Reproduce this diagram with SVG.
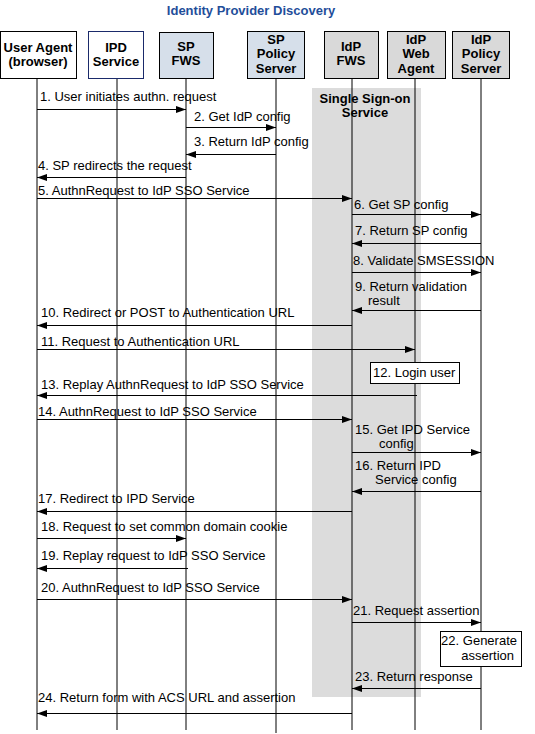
<svg xmlns="http://www.w3.org/2000/svg" width="535" height="734" viewBox="0 0 535 734">
<defs>
<style>
.t{font-family:"Liberation Sans",Arial,sans-serif;font-size:13px;fill:#000}
.h{font-family:"Liberation Sans",Arial,sans-serif;font-size:13px;font-weight:bold;fill:#000;text-anchor:middle}
.title{font-family:"Liberation Sans",Arial,sans-serif;font-size:13px;font-weight:bold;fill:#1f4e9a;text-anchor:middle}
.box{stroke:#000;stroke-width:1}
.life{stroke:#000;stroke-width:1}
.msg{stroke:#000;stroke-width:1;fill:none;marker-end:url(#ah)}
</style>
<marker id="ah" markerUnits="userSpaceOnUse" markerWidth="11" markerHeight="8" refX="10" refY="3.5" orient="auto"><path d="M0,0 L10,3.5 L0,7 z" fill="#000"/></marker>
</defs>
<rect width="535" height="734" fill="#fff"/>
<text class="title" x="251" y="15">Identity Provider Discovery</text>
<rect x="312" y="88" width="109" height="609" fill="#dcdcdc"/>
<g id="lifelines">
<line class="life" x1="37" y1="79" x2="37" y2="730"/>
<line class="life" x1="117" y1="79" x2="117" y2="730"/>
<line class="life" x1="186" y1="79" x2="186" y2="730"/>
<line class="life" x1="276" y1="79" x2="276" y2="733"/>
<line class="life" x1="352" y1="79" x2="352" y2="730"/>
<line class="life" x1="415" y1="79" x2="415" y2="730"/>
<line class="life" x1="481" y1="79" x2="481" y2="730"/>
</g>
<text class="h" x="365" y="103">Single Sign-on</text>
<text class="h" x="365" y="117">Service</text>
<g id="user-agent"><rect class="box" x="0.5" y="31.5" width="76" height="47" fill="#fff"/><text class="h" x="38" y="52">User Agent</text><text class="h" x="38" y="66">(browser)</text></g>
<g id="ipd-service"><rect x="88.5" y="31.5" width="55" height="47" fill="#fff" stroke="#1a2a6a" stroke-width="1"/><text class="h" x="116" y="52">IPD</text><text class="h" x="116" y="66">Service</text></g>
<g id="sp-fws"><rect class="box" x="159.5" y="32.5" width="54" height="46" fill="#d6dfea"/><text class="h" x="186" y="51">SP</text><text class="h" x="186" y="65">FWS</text></g>
<g id="sp-policy-server"><rect class="box" x="247.5" y="31.5" width="57" height="47" fill="#d6dfea"/><text class="h" x="276" y="44">SP</text><text class="h" x="276" y="58">Policy</text><text class="h" x="276" y="73">Server</text></g>
<g id="idp-fws"><rect class="box" x="324.5" y="31.5" width="54" height="47" fill="#d9d9d9"/><text class="h" x="351" y="51">IdP</text><text class="h" x="351" y="65">FWS</text></g>
<g id="idp-web-agent"><rect class="box" x="387.5" y="31.5" width="58" height="47" fill="#d9d9d9"/><text class="h" x="416" y="44">IdP</text><text class="h" x="416" y="58">Web</text><text class="h" x="416" y="73">Agent</text></g>
<g id="idp-policy-server"><rect class="box" x="452.5" y="31.5" width="57" height="47" fill="#d9d9d9"/><text class="h" x="481" y="44">IdP</text><text class="h" x="481" y="58">Policy</text><text class="h" x="481" y="73">Server</text></g>
<g id="login-user"><rect class="box" x="370.5" y="362.5" width="89" height="21" fill="#fff"/><text class="t" x="373" y="377">12. Login user</text></g>
<g id="generate-assertion"><rect class="box" x="440.5" y="631.5" width="81" height="35" fill="#fff"/><text class="t" x="517" y="645" text-anchor="end">22. Generate</text><text class="t" x="514" y="660" text-anchor="end">assertion</text></g>
<g id="connectors">
<line class="msg" x1="37" y1="109.5" x2="186" y2="109.5"/>
<line class="msg" x1="186" y1="127.5" x2="276" y2="127.5"/>
<line class="msg" x1="276" y1="154.5" x2="186" y2="154.5"/>
<line class="msg" x1="186" y1="177.5" x2="37" y2="177.5"/>
<line class="msg" x1="37" y1="198.5" x2="352" y2="198.5"/>
<line class="msg" x1="352" y1="214.5" x2="481" y2="214.5"/>
<line class="msg" x1="481" y1="243.5" x2="352" y2="243.5"/>
<line class="msg" x1="352" y1="272.5" x2="481" y2="272.5"/>
<line class="msg" x1="481" y1="310.5" x2="352" y2="310.5"/>
<line class="msg" x1="352" y1="325.5" x2="37" y2="325.5"/>
<line class="msg" x1="37" y1="349.5" x2="415" y2="349.5"/>
<line class="msg" x1="417" y1="395.5" x2="37" y2="395.5"/>
<line class="msg" x1="37" y1="419.5" x2="352" y2="419.5"/>
<line class="msg" x1="352" y1="452.5" x2="481" y2="452.5"/>
<line class="msg" x1="481" y1="491.5" x2="352" y2="491.5"/>
<line class="msg" x1="352" y1="511.5" x2="37" y2="511.5"/>
<line class="msg" x1="37" y1="538.5" x2="186" y2="538.5"/>
<line class="msg" x1="188" y1="568.5" x2="37" y2="568.5"/>
<line class="msg" x1="37" y1="599.5" x2="352" y2="599.5"/>
<line class="msg" x1="352" y1="622.5" x2="481" y2="622.5"/>
<line class="msg" x1="481" y1="688.5" x2="352" y2="688.5"/>
<line class="msg" x1="352" y1="713.5" x2="37" y2="713.5"/>
</g>
<g id="labels">
<text class="t" x="40" y="101">1. User initiates authn. request</text>
<text class="t" x="194" y="121">2. Get IdP config</text>
<text class="t" x="194" y="146">3. Return IdP config</text>
<text class="t" x="38" y="170">4. SP redirects the request</text>
<text class="t" x="38" y="195">5. AuthnRequest to IdP SSO Service</text>
<text class="t" x="354" y="209">6. Get SP config</text>
<text class="t" x="355" y="235">7. Return SP config</text>
<text class="t" x="353" y="265">8. Validate SMSESSION</text>
<text class="t" x="355" y="291">9. Return validation</text>
<text class="t" x="368" y="305">result</text>
<text class="t" x="41" y="317">10. Redirect or POST to Authentication URL</text>
<text class="t" x="41" y="346">11. Request to Authentication URL</text>
<text class="t" x="41" y="389">13. Replay AuthnRequest to IdP SSO Service</text>
<text class="t" x="38" y="416">14. AuthnRequest to IdP SSO Service</text>
<text class="t" x="355" y="434">15. Get IPD Service</text>
<text class="t" x="379" y="448">config</text>
<text class="t" x="355" y="470">16. Return IPD</text>
<text class="t" x="375" y="484">Service config</text>
<text class="t" x="38" y="503">17. Redirect to IPD Service</text>
<text class="t" x="41" y="531">18. Request to set common domain cookie</text>
<text class="t" x="41" y="560">19. Replay request to IdP SSO Service</text>
<text class="t" x="41" y="592">20. AuthnRequest to IdP SSO Service</text>
<text class="t" x="353" y="615">21. Request assertion</text>
<text class="t" x="355" y="681">23. Return response</text>
<text class="t" x="38" y="702">24. Return form with ACS URL and assertion</text>
</g>
</svg>
